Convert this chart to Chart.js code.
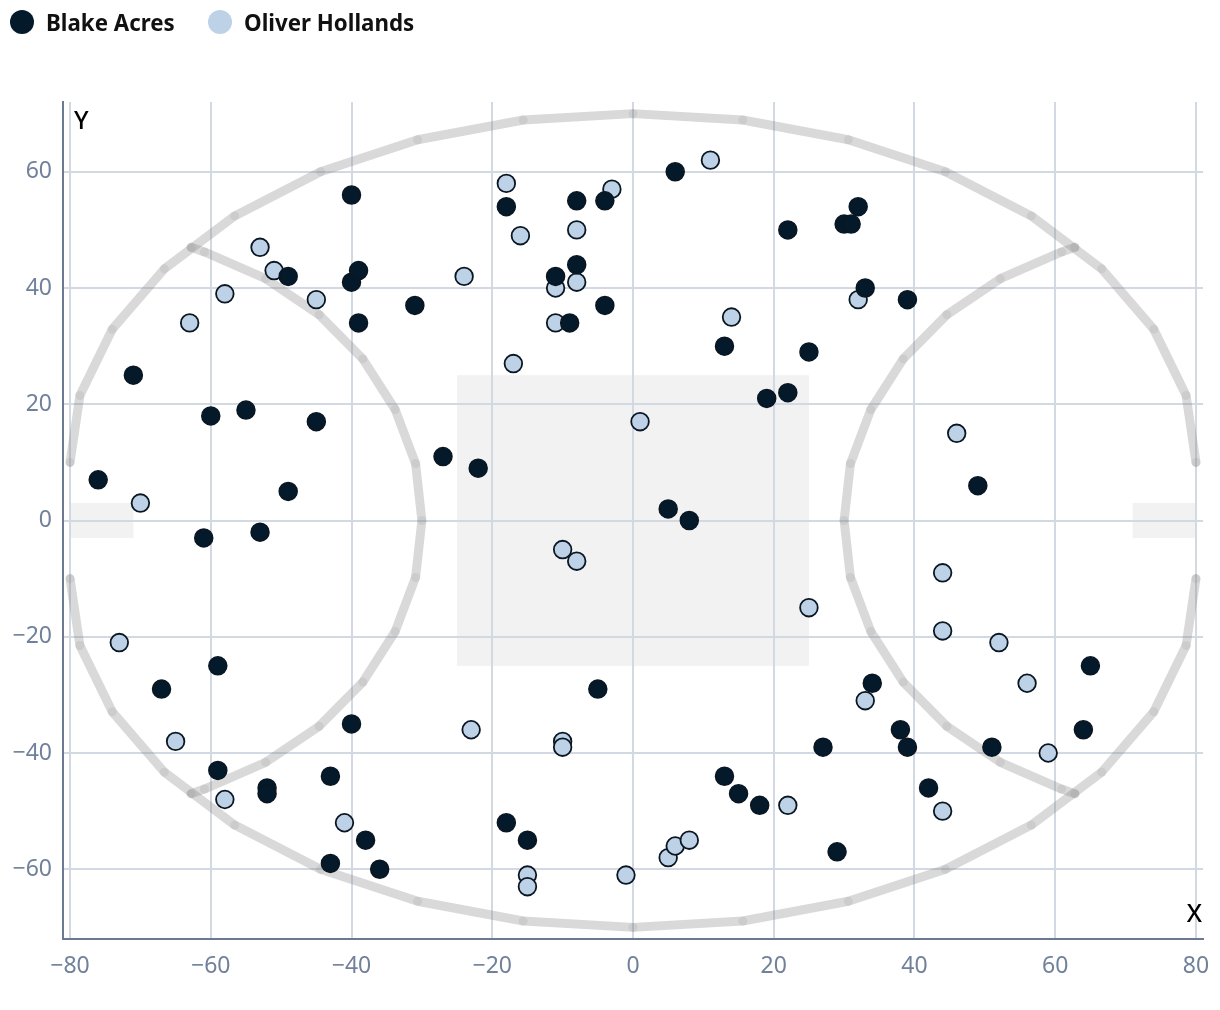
<!DOCTYPE html>
<html><head><meta charset="utf-8">
<script src="https://cdn.jsdelivr.net/npm/chart.js@4/dist/chart.umd.min.js"></script>
<style>
html,body{margin:0;padding:0;background:#fff;}
#wrap{position:relative;width:1220px;height:1010px;overflow:hidden;}
canvas{position:absolute;left:0;top:0;}
#legend{position:absolute;left:0;top:0;height:44px;width:1220px;font-family:"Noto Sans",sans-serif;font-weight:700;font-size:22.3px;color:#111;}
.item{position:absolute;top:0;height:44px;display:flex;align-items:center;white-space:nowrap;}
.dot{width:24px;height:24px;border-radius:50%;margin-right:12px;flex:none;}
</style></head>
<body><div id="wrap"><canvas id="c" width="1220" height="1010"></canvas><div id="legend"></div></div>
<script>
// ---- data ----
const seriesNames = ['Blake Acres', 'Oliver Hollands'];
const seriesColors = ['#04192a', '#bdd1e7'];

const blakeX = [-76,-71,-60,-55,-45,-61,-53,-49,-49,-40,-40,-39,-39,-31,-27,-22,-18,-11,-9,-8,-8,-4,-4,6,13,22,19,22,25,30,31,32,33,39,5,8,49,-59,-67,-40,-59,-52,-52,-43,-38,-43,-36,-18,-15,-5,13,15,18,27,29,34,38,39,42,51,65,64];
const blakeY = [7,25,18,19,17,-3,-2,5,42,56,41,43,34,37,11,9,54,42,34,55,44,55,37,60,30,50,21,22,29,51,51,54,40,38,2,0,6,-25,-29,-35,-43,-46,-47,-44,-55,-59,-60,-52,-55,-29,-44,-47,-49,-39,-57,-28,-36,-39,-46,-39,-25,-36];

const oliverX = [-18,-3,-16,-8,-24,-11,-8,-11,-17,11,14,32,-63,-58,-53,-51,-45,-70,-73,1,-10,-8,25,-23,46,44,44,52,56,33,-65,-58,-41,-10,-10,-15,-15,-1,5,6,8,22,44,59];
const oliverY = [58,57,49,50,42,40,41,34,27,62,35,38,34,39,47,43,38,3,-21,17,-5,-7,-15,-36,15,-9,-19,-21,-28,-31,-38,-48,-52,-38,-39,-61,-63,-61,-58,-56,-55,-49,-50,-40];

// rink outline
const outerTopX = [-80,-78.6,-74,-66.6,-56.6,-44.4,-30.6,-15.6,0,15.6,30.6,44.4,56.6,66.6,74,78.6,80];
const outerTopY = [10,21.5,32.9,43.3,52.4,60,65.5,68.9,70,68.9,65.5,60,52.4,43.3,32.9,21.5,10];
const outerBotX = [-80,-78.6,-74,-66.6,-56.6,-44.4,-30.6,-15.6,0,15.6,30.6,44.4,56.6,66.6,74,78.6,80];
const outerBotY = [-10,-21.5,-32.9,-43.3,-52.4,-60,-65.5,-68.9,-70,-68.9,-65.5,-60,-52.4,-43.3,-32.9,-21.5,-10];
const leftArcX = [-62.8,-60.9,-52.2,-44.6,-38.4,-33.8,-30.9,-30,-30.9,-33.8,-38.4,-44.6,-52.2,-60.9,-62.8];
const leftArcY = [47,46.2,41.6,35.4,27.8,19.1,9.8,0,-9.8,-19.1,-27.8,-35.4,-41.6,-46.2,-47];
const rightArcX = [62.8,60.9,52.2,44.6,38.4,33.8,30.9,30,30.9,33.8,38.4,44.6,52.2,60.9,62.8];
const rightArcY = [47,46.2,41.6,35.4,27.8,19.1,9.8,0,-9.8,-19.1,-27.8,-35.4,-41.6,-46.2,-47];

// shaded boxes: [x0, x1, y0, y1]
const boxX0 = [-25, -80, 71];
const boxX1 = [25, -71, 80];
const boxY0 = [-25, -3, -3];
const boxY1 = [25, 3, 3];

const xTicks = [-80,-60,-40,-20,0,20,40,60,80];
const yTicks = [-60,-40,-20,0,20,40,60];
const xRange = [-81, 81];
const yRange = [-72, 72];
const axisTitles = ['X', 'Y'];

// ---- build ----
const pts = (xs, ys) => xs.map((x, i) => ({x: x, y: ys[i]}));
const rinkLine = () => ({
  showLine: true, tension: 0, borderColor: 'rgba(128,128,128,0.3)', borderWidth: 9,
  borderCapStyle: 'round', borderJoinStyle: 'round',
  pointRadius: 4.5, pointBorderWidth: 0, pointBackgroundColor: 'rgba(128,128,128,0.15)',
  pointHoverRadius: 0, order: 10
});

const legend = document.getElementById('legend');
const legendLeft = [10, 208];
seriesNames.forEach((n, i) => {
  const it = document.createElement('div');
  it.className = 'item'; it.style.left = legendLeft[i] + 'px';
  const d = document.createElement('span'); d.className = 'dot'; d.style.background = seriesColors[i];
  const t = document.createElement('span'); t.textContent = n;
  it.appendChild(d); it.appendChild(t); legend.appendChild(it);
});

const boxPlugin = {
  id: 'boxes',
  beforeDraw(chart) {
    const {ctx, scales: {x, y}} = chart;
    ctx.save();
    ctx.fillStyle = '#f2f2f2';
    for (let i = 0; i < boxX0.length; i++) {
      const px0 = x.getPixelForValue(boxX0[i]), px1 = x.getPixelForValue(boxX1[i]);
      const py0 = y.getPixelForValue(boxY1[i]), py1 = y.getPixelForValue(boxY0[i]);
      ctx.fillRect(px0, py0, px1 - px0, py1 - py0);
    }
    ctx.restore();
  },
  afterDraw(chart) {
    const {ctx, chartArea: a} = chart;
    ctx.save();
    ctx.fillStyle = '#000';
    ctx.font = '500 25px "Noto Sans", sans-serif';
    ctx.textBaseline = 'alphabetic';
    ctx.textAlign = 'left';
    ctx.fillText(axisTitles[1], a.left + 11, a.top + 27);
    ctx.textAlign = 'right';
    ctx.fillText(axisTitles[0], a.right - 1, a.bottom - 17);
    ctx.restore();
  }
};

const tickFmt = v => String(v).replace('-', '\u2212');
const gridCol = '#d3d9e2';
const axisCol = '#6b7a90';
const tickCol = '#71819a';

Chart.defaults.font.family = '"Noto Sans", sans-serif';

new Chart(document.getElementById('c'), {
  type: 'scatter',
  data: {
    datasets: [
      { label: seriesNames[0], data: pts(blakeX, blakeY), backgroundColor: seriesColors[0],
        borderColor: '#0a1621', borderWidth: 1.5, pointRadius: 9, pointHoverRadius: 9, order: 0 },
      { label: seriesNames[1], data: pts(oliverX, oliverY), backgroundColor: seriesColors[1],
        borderColor: '#0a1621', borderWidth: 1.8, pointRadius: 8.8, pointHoverRadius: 8.8, order: 1 },
      Object.assign({ label: 'outer top', data: pts(outerTopX, outerTopY) }, rinkLine()),
      Object.assign({ label: 'outer bottom', data: pts(outerBotX, outerBotY) }, rinkLine()),
      Object.assign({ label: 'left arc', data: pts(leftArcX, leftArcY) }, rinkLine()),
      Object.assign({ label: 'right arc', data: pts(rightArcX, rightArcY) }, rinkLine())
    ]
  },
  options: {
    responsive: false, animation: false, devicePixelRatio: 1,
    layout: { padding: { top: 102, right: 17, left: 0, bottom: 0 } },
    plugins: { legend: { display: false }, tooltip: { enabled: false } },
    scales: {
      x: {
        type: 'linear', min: xRange[0], max: xRange[1],
        afterBuildTicks: s => { s.ticks = xTicks.map(v => ({value: v})); },
        afterFit: s => { s.height = 71; s.paddingLeft = 0; s.paddingRight = 0; },
        grid: { color: gridCol, lineWidth: 2, drawTicks: false },
        border: { display: true, color: axisCol, width: 2 },
        ticks: { color: tickCol, font: { size: 23 }, padding: 14, callback: tickFmt, maxRotation: 0 }
      },
      y: {
        type: 'linear', min: yRange[0], max: yRange[1],
        afterBuildTicks: s => { s.ticks = yTicks.map(v => ({value: v})); },
        afterFit: s => { s.width = 63; s.paddingTop = 0; s.paddingBottom = 0; },
        grid: { color: gridCol, lineWidth: 2, drawTicks: false },
        border: { display: true, color: axisCol, width: 2 },
        ticks: { color: tickCol, font: { size: 23 }, padding: 11, callback: tickFmt }
      }
    }
  },
  plugins: [boxPlugin]
});
</script>
</body></html>
